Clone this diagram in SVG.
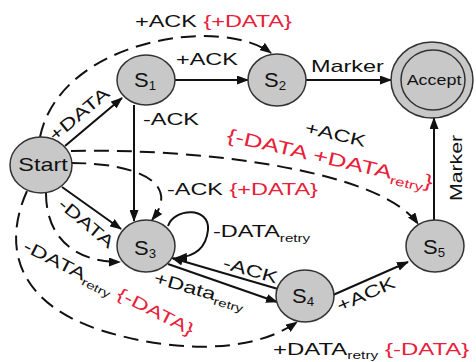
<svg xmlns="http://www.w3.org/2000/svg" width="476" height="362" viewBox="0 0 476 362">
<style>
text{font-family:"Liberation Sans",Arial,sans-serif;fill:#111;font-size:17px}
.r{fill:#e8203a}
.node{fill:#c8c8c8;stroke:#333;stroke-width:1.5}
.e{fill:none;stroke:#111;stroke-width:2}
.d{fill:none;stroke:#111;stroke-width:2;stroke-dasharray:15 8}
.sub{font-size:11px}
.nl{font-size:20px;text-anchor:middle}
.nsub{font-size:12px}
</style>
<defs>
<marker id="ah" viewBox="0 0 12 9" refX="11" refY="4.5" markerWidth="12" markerHeight="9" markerUnits="userSpaceOnUse" orient="auto">
<path d="M0,0 L12,4.5 L0,9 z" fill="#111"/>
</marker>
</defs>
<rect width="476" height="362" fill="#fff"/>
<g id="connectors">
<path class="e" d="M65,146 L122,98" marker-end="url(#ah)"/>
<path class="e" d="M175,80 L248,80" marker-end="url(#ah)"/>
<path class="e" d="M306,80 L391,80" marker-end="url(#ah)"/>
<path class="e" d="M434,220 L434,118" marker-end="url(#ah)"/>
<path class="e" d="M134,105 L134,221" marker-end="url(#ah)"/>
<path class="e" d="M62,187 L121,229" marker-end="url(#ah)"/>
<path class="e" d="M168,226 C174,208 210,206 208,230 C206,249 193,257 176,258" marker-end="url(#ah)"/>
<path class="e" d="M278,289 L172,258" marker-end="url(#ah)"/>
<path class="e" d="M168,264 L277,302" marker-end="url(#ah)"/>
<path class="e" d="M333,295 L408,262" marker-end="url(#ah)"/>
<path class="d" d="M40,137 C60,40 220,15 271,53" marker-end="url(#ah)"/>
<path class="d" d="M71,151 C200,148 380,170 418,224" marker-end="url(#ah)"/>
<path class="d" d="M71,163 C135,163 182,182 152,220" marker-end="url(#ah)"/>
<path class="d" d="M46,193 C46,235 72,262 120,262" marker-end="url(#ah)"/>
<path class="d" d="M27,191 C5,240 10,300 100,330 C170,352 250,355 297,322" marker-end="url(#ah)"/>
</g>
<g id="labels">
<text transform="translate(135,27) scale(1.38,1)">+ACK <tspan class="r">{+DATA}</tspan></text>
<text transform="translate(176,65) scale(1.38,1)">+ACK</text>
<text transform="translate(311,72) scale(1.38,1)">Marker</text>
<text transform="translate(143,125) scale(1.38,1)">-ACK</text>
<text transform="translate(167,195) scale(1.38,1)">-ACK <tspan class="r">{+DATA}</tspan></text>
<text transform="translate(213,237) scale(1.38,1)">-DATA<tspan class="sub" dy="5">retry</tspan></text>
<text transform="translate(273,355) scale(1.41,1)">+DATA<tspan class="sub" dy="4">retry</tspan><tspan dy="-4"> </tspan><tspan class="r">{-DATA}</tspan></text>
<text transform="translate(462,201) rotate(-90) scale(1.25,1)">Marker</text>
<text transform="translate(304,133) rotate(13) scale(1.38,1)">+ACK</text>
<text class="r" transform="translate(226,141) rotate(13) scale(1.4,1)" style="font-size:18.5px">{-DATA +DATA<tspan style="font-size:12px" dy="5">retry</tspan><tspan dy="-5">}</tspan></text>
<text transform="translate(55,142) rotate(-40) scale(1.38,1)">+DATA</text>
<text transform="translate(57,206) rotate(40) scale(1.38,1)">-DATA</text>
<text transform="translate(22,250) rotate(27) scale(1.4,1)">-DATA<tspan class="sub" dy="4">retry</tspan><tspan dy="-4"> </tspan><tspan class="r">{-DATA}</tspan></text>
<text transform="translate(222,268) rotate(16) scale(1.38,1)">-ACK</text>
<text transform="translate(153,283) rotate(16) scale(1.38,1)">+Data<tspan class="sub" dy="4">retry</tspan></text>
<text transform="translate(340,312) rotate(-24) scale(1.38,1)">+ACK</text>
</g>
<g id="Start">
<ellipse class="node" cx="41" cy="165" rx="31" ry="28"/>
<text class="nl" transform="translate(43,171) scale(1.3,1)" style="font-size:18px">Start</text>
</g>
<g id="S1">
<ellipse class="node" cx="146" cy="80" rx="29" ry="25"/>
<text class="nl" transform="translate(145,87) scale(1.1,1)">S<tspan class="nsub" dy="3">1</tspan></text>
</g>
<g id="S2">
<ellipse class="node" cx="277" cy="80" rx="29" ry="26"/>
<text class="nl" transform="translate(275,87) scale(1.1,1)">S<tspan class="nsub" dy="3">2</tspan></text>
</g>
<g id="Accept">
<ellipse class="node" cx="432" cy="80" rx="41" ry="38"/>
<ellipse class="node" cx="433" cy="80" rx="32" ry="30"/>
<text transform="translate(434,85) scale(1.28,1)" style="font-size:14px;text-anchor:middle">Accept</text>
</g>
<g id="S3">
<ellipse class="node" cx="146" cy="246" rx="29" ry="26"/>
<text class="nl" transform="translate(145,255) scale(1.1,1)">S<tspan class="nsub" dy="3">3</tspan></text>
</g>
<g id="S4">
<ellipse class="node" cx="305" cy="296" rx="29" ry="26"/>
<text class="nl" transform="translate(303,303) scale(1.1,1)">S<tspan class="nsub" dy="3">4</tspan></text>
</g>
<g id="S5">
<ellipse class="node" cx="435" cy="246" rx="29" ry="26"/>
<text class="nl" transform="translate(434,254) scale(1.1,1)">S<tspan class="nsub" dy="3">5</tspan></text>
</g>
</svg>
